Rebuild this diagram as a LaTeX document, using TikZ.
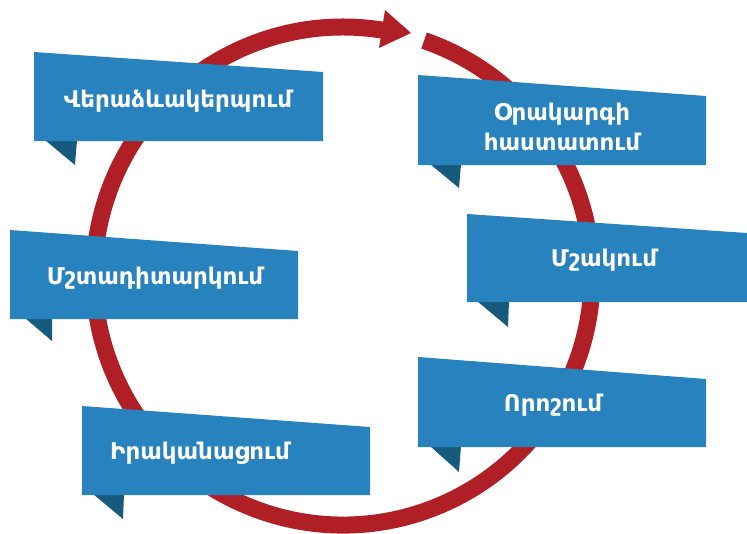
\documentclass[tikz,border=0pt]{standalone}
\usepackage{fontspec}
\setmainfont{DejaVu Sans}
\definecolor{ringred}{RGB}{175,31,37}
\definecolor{boxblue}{RGB}{39,130,190}
\definecolor{folddark}{RGB}{22,90,125}
\begin{document}
\begin{tikzpicture}[x=1pt,y=-1pt,
  ringstyle/.style={draw=ringred,line width=17pt},
  boxshape/.style={fill=boxblue},
  foldshape/.style={fill=folddark},
  label/.style={text=white,font=\fontsize{23}{30}\selectfont\bfseries,align=center,inner sep=0pt}]
\useasboundingbox (0,0) rectangle (747,533);
% ring
\coordinate (C) at (343,276);
\draw[ringstyle] (C) ++(-71:249) arc[start angle=-71,end angle=280.5,radius=249];
\coordinate (ah1) at (385,10);
\coordinate (ah2) at (379,48);
\coordinate (ahtip) at (411,33);
\fill[ringred] (ah1) -- (ahtip) -- (ah2) -- cycle;
% box 1
\fill[foldshape] (45,140) -- (77,140) -- (75,165) -- cycle;
\fill[boxshape] (34,52) -- (323,72) -- (323,141) -- (34,141) -- cycle;
\node[label] (t1) at (178,101) {Վերաձևակերպում};
% box 2
\fill[foldshape] (430,164) -- (461,164) -- (459,188) -- cycle;
\fill[boxshape] (418,75) -- (706,96) -- (706,165) -- (418,165) -- cycle;
\node[label] (t2) at (562,127) {Օրակարգի\\հաստատում};
% box 3
\fill[foldshape] (25,318) -- (52,318) -- (52,341) -- cycle;
\fill[boxshape] (10,230) -- (298,251) -- (298,319) -- (10,319) -- cycle;
\node[label] (t3) at (155,278) {Մշտադիտարկում};
% box 4
\fill[foldshape] (477,301) -- (509,301) -- (508,327) -- cycle;
\fill[boxshape] (467,214) -- (747,233) -- (747,302) -- (467,302) -- cycle;
\node[label] (t4) at (604,260) {Մշակում};
% box 5
\fill[foldshape] (430,446) -- (461,446) -- (459,472) -- cycle;
\fill[boxshape] (418,357) -- (706,379) -- (706,447) -- (418,447) -- cycle;
\node[label] (t5) at (553,405) {Որոշում};
% box 6
\fill[foldshape] (93,494) -- (124,494) -- (123,519) -- cycle;
\fill[boxshape] (82,406) -- (370,427) -- (370,495) -- (82,495) -- cycle;
\node[label,anchor=west] (t6) at (110,453) {Իրականացում};
\end{tikzpicture}
\end{document}
